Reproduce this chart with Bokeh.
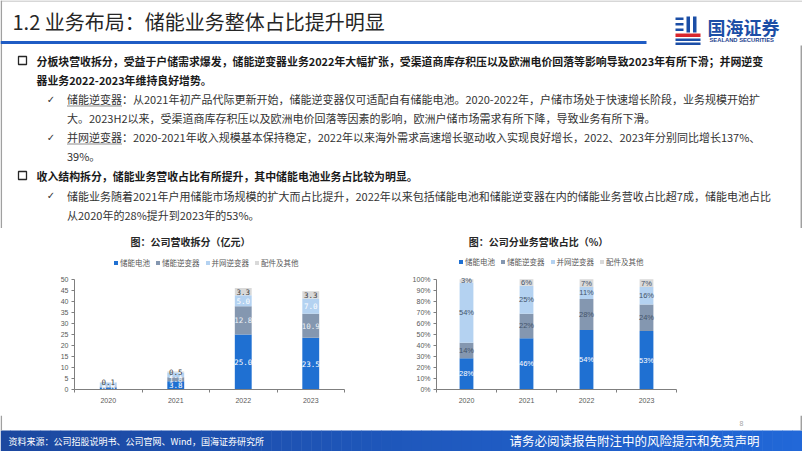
from bokeh.plotting import figure
from bokeh.layouts import column, row
from bokeh.models import Range1d, FixedTicker, ColumnDataSource, PrintfTickFormatter
from bokeh.core.properties import value
from bokeh.embed import file_html
from bokeh.resources import INLINE

# ---------------- data ----------------
years = ["2020", "2021", "2022", "2023"]
series_names = ["储能电池", "储能逆变器", "并网逆变器", "配件及其他"]
rev_battery = [0.9, 3.8, 25.0, 23.5]
rev_inverter = [0.5, 1.8, 12.8, 10.9]
rev_grid = [1.8, 2.1, 5.0, 7.0]
rev_other = [0.1, 0.5, 3.3, 3.3]
share_battery = [28, 46, 54, 53]
share_inverter = [14, 22, 28, 24]
share_grid = [54, 25, 11, 16]
share_other = [3, 6, 7, 7]
rev_ticks = [0, 5, 10, 15, 20, 25, 30, 35, 40, 45, 50]
share_ticks = [0, 10, 20, 30, 40, 50, 60, 70, 80, 90, 100]

CJK = "Noto Sans CJK SC"
COLORS = ["#1f70d2", "#8497b0", "#b4d2f1", "#d9d9d9"]
W = 802


def blank(w, h, y_top, y_bot):
    p = figure(width=w, height=h, x_range=Range1d(0, w), y_range=Range1d(y_bot, y_top),
               output_backend="svg", toolbar_location=None, min_border=0)
    p.axis.visible = False
    p.grid.visible = False
    p.outline_line_color = None
    p.background_fill_color = "white"
    return p


def txt(p, x, y, s, size, color, bold=False, align="left", font=CJK, baseline="middle"):
    p.text(x=[x], y=[y], text=[s], text_font=value(font), text_font_size=size,
           text_color=color, text_font_style="bold" if bold else "normal",
           text_align=align, text_baseline=baseline)


# ---------------- header ----------------
H1 = 228
hd = blank(W, H1, 0, H1)
hd.segment(x0=[0], y0=[0.5], x1=[W], y1=[0.5], line_color="#b0b0b0", line_width=1)
hd.segment(x0=[0.8], y0=[0], x1=[0.8], y1=[H1], line_color="#a0a0a0", line_width=1.5)
hd.segment(x0=[800.8], y0=[45], x1=[800.8], y1=[H1], line_color="#a0a0a0", line_width=1.5)
txt(hd, 12, 21, "1.2 业务布局：储能业务整体占比提升明显", "20px", "#262626")
hd.segment(x0=[0], y0=[42], x1=[646], y1=[42], line_color="#1f5cc4", line_width=3)

# logo
hd.quad(left=[675, 675, 675], right=[683, 683, 683], top=[17, 22.5, 28], bottom=[19.5, 25, 30.5],
        fill_color="#1b4ea6", line_color=None)
hd.quad(left=[686, 692.5], right=[689.5, 696], top=[16, 16], bottom=[32, 32],
        fill_color="#1b4ea6", line_color=None)
hd.quad(left=[675], right=[700], top=[33], bottom=[36.5], fill_color="#d9262c", line_color=None)
hd.quad(left=[675, 675], right=[700, 700], top=[38, 42], bottom=[40.5, 44.5],
        fill_color="#1b4ea6", line_color=None)
txt(hd, 707, 26, "国海证券", "18px", "#1b4ea6", bold=True)
txt(hd, 709, 39.5, "SEALAND SECURITIES", "5.8px", "#1b3f8f", bold=True, font="Liberation Sans")

lines = [
    (36, 60, "分板块营收拆分，受益于户储需求爆发，储能逆变器业务2022年大幅扩张，受渠道商库存积压以及欧洲电价回落等影响导致2023年有所下滑；并网逆变", True),
    (36, 79, "器业务2022-2023年维持良好增势。", True),
    (66.5, 98.5, "储能逆变器：从2021年初产品代际更新开始，储能逆变器仅可适配自有储能电池。2020-2022年，户储市场处于快速增长阶段，业务规模开始扩", False),
    (66.5, 117.5, "大。2023H2以来，受渠道商库存积压以及欧洲电价回落等因素的影响，欧洲户储市场需求有所下降，导致业务有所下滑。", False),
    (66.5, 136.5, "并网逆变器：2020-2021年收入规模基本保持稳定，2022年以来海外需求高速增长驱动收入实现良好增长，2022、2023年分别同比增长137%、", False),
    (66.5, 155.5, "39%。", False),
    (36, 175, "收入结构拆分，储能业务营收占比有所提升，其中储能电池业务占比较为明显。", True),
    (66.5, 195, "储能业务随着2021年户用储能市场规模的扩大而占比提升，2022年以来包括储能电池和储能逆变器在内的储能业务营收占比超7成，储能电池占比", False),
    (66.5, 214, "从2020年的28%提升到2023年的53%。", False),
]
for x, y, s, b in lines:
    txt(hd, x, y, s, "10.9px" if b else "11px", "#1a1a1a" if b else "#333333", bold=b)
hd.scatter(x=[22, 22], y=[60, 175], marker="square", size=8, fill_color=None,
           line_color="#262626", line_width=1.3)
for y in [98.5, 136.5, 195]:
    txt(hd, 50.5, y, "✓", "10px", "#333333", align="center", font="DejaVu Sans")
hd.segment(x0=[66.5, 66.5], y0=[105.5, 143.5], x1=[121.5, 121.5], y1=[105.5, 143.5],
           line_color="#8c8c8c", line_width=1)


# ---------------- charts ----------------
RH = 187


def base_chart(w, left, right, bottom, ytop):
    p = figure(width=w, height=RH, x_range=Range1d(0.5, 4.5), y_range=Range1d(0, ytop),
               output_backend="svg", toolbar_location=None,
               min_border_left=left, min_border_right=right, min_border_top=0,
               min_border_bottom=bottom)
    p.grid.visible = False
    p.outline_line_color = None
    p.xaxis.ticker = FixedTicker(ticks=[i + 1 for i in range(len(years))],
                                 minor_ticks=[i + 0.5 for i in range(len(years) + 1)])
    p.xaxis.major_label_overrides = {i + 1: y for i, y in enumerate(years)}
    p.xaxis.major_tick_out = 0
    p.xaxis.major_tick_in = 0
    p.xaxis.minor_tick_out = 3
    p.xaxis.minor_tick_in = 0
    p.xaxis.major_label_standoff = 5
    for ax in (p.xaxis, p.yaxis):
        ax.axis_line_color = "#7f7f7f"
        ax.major_tick_line_color = "#7f7f7f"
        ax.minor_tick_line_color = "#7f7f7f"
        ax.major_label_text_font = "Liberation Sans"
        ax.major_label_text_color = "#595959"
        ax.major_label_text_font_size = "7px"
    p.yaxis.major_tick_in = 0
    p.yaxis.major_tick_out = 3
    p.yaxis.minor_tick_out = 0
    p.yaxis.major_label_standoff = 3
    return p


def stack_chart(p, vals, heights, width, label_fmt, label_colors, label_font, label_size):
    xs = [i + 1 for i in range(len(years))]
    keys = ["s0", "s1", "s2", "s3"]
    data = {"x": xs}
    for k, h in zip(keys, heights):
        data[k] = h
    src = ColumnDataSource(data)
    p.vbar_stack(keys, x="x", width=width, color=COLORS, line_color=None, source=src,
                 legend_label=series_names)
    bottoms = [0.0] * len(xs)
    for si, (v, h) in enumerate(zip(vals, heights)):
        ys = [b + hh / 2 for b, hh in zip(bottoms, h)]
        p.text(x=xs, y=ys, text=[label_fmt(a) for a in v], text_font=value(label_font),
               text_font_size=label_size, text_color=label_colors[si],
               text_align="center", text_baseline="middle")
        bottoms = [b + hh for b, hh in zip(bottoms, h)]
    lg = p.legend[0]
    lg.orientation = "horizontal"
    lg.glyph_width = 5
    lg.glyph_height = 5
    lg.label_standoff = 2
    lg.spacing = 5
    lg.padding = 0
    lg.margin = 0
    lg.label_height = 7
    lg.label_text_font = CJK
    lg.label_text_font_size = "7.5px"
    lg.label_text_color = "#595959"
    lg.background_fill_alpha = 0
    lg.border_line_alpha = 0
    return lg


# left chart: frame x 74..344, y 228..389 (page), 2.2 px per unit
pL = base_chart(400, 74, 56, 26, 161 / 2.2)
lgL = stack_chart(pL, [rev_battery, rev_inverter, rev_grid, rev_other],
                  [rev_battery, rev_inverter, rev_grid, rev_other], 0.25,
                  lambda a: f"{a:.1f}", ["white", "#eef2f7", "white", "#404040"],
                  "DejaVu Sans Mono", "7.5px")
lgL.location = (39, 121)
pL.yaxis.ticker = FixedTicker(ticks=rev_ticks)
pL.yaxis.bounds = (rev_ticks[0], rev_ticks[-1])
pL.text(x=[0.5 + (190 - 74) / 67.5], y=[(389 - 241) / 2.2], text=["图：公司营收拆分（亿元）"],
        text_font=value(CJK), text_font_size="10px", text_font_style="bold",
        text_color="#262626", text_align="center", text_baseline="middle")

# right chart: frame x 436..676, y 228..390, 1.11 px per unit
tot = [a + b + c + d for a, b, c, d in zip(share_battery, share_inverter, share_grid, share_other)]
norm = [[v / t * 100 for v, t in zip(s, tot)] for s in (share_battery, share_inverter, share_grid, share_other)]
pR = base_chart(402, 36, 126, 25, 162 / 1.11)
lgR = stack_chart(pR, [share_battery, share_inverter, share_grid, share_other], norm, 0.23,
                  lambda a: f"{a}%", ["white", "#44546a", "#44546a", "#44546a"],
                  "Liberation Sans", "7.5px")
lgR.location = (22, 122)
pR.yaxis.ticker = FixedTicker(ticks=share_ticks)
pR.yaxis.bounds = (share_ticks[0], share_ticks[-1])
pR.yaxis.formatter = PrintfTickFormatter(format="%d%%")
pR.text(x=[0.5 + (538 - 436) / 60], y=[(390 - 241) / 1.11], text=["图：公司分业务营收占比（%）"],
        text_font=value(CJK), text_font_size="10px", text_font_style="bold",
        text_color="#262626", text_align="center", text_baseline="middle")

# ---------------- footer ----------------
FT = 415
ft = blank(W, 451 - FT, FT, 451)
n = 80
c0 = (0x1c, 0x48, 0xa0)
c1 = (0x22, 0x68, 0xd8)
lefts = [W * i / n for i in range(n)]
rights = [W * (i + 1) / n + 0.5 for i in range(n)]
cols = ["#%02x%02x%02x" % tuple(int(c0[k] + (c1[k] - c0[k]) * i / (n - 1)) for k in range(3)) for i in range(n)]
ft.quad(left=lefts, right=rights, top=[430] * n, bottom=[451] * n, fill_color=cols, line_color=None)
ft.segment(x0=[0.8, 800.8], y0=[FT, FT], x1=[0.8, 800.8], y1=[430, 430], line_color="#a0a0a0", line_width=1.5)
txt(ft, 741, 423, "8", "7px", "#a6a6a6", align="center", font="Liberation Sans")
txt(ft, 8, 440.5, "资料来源：公司招股说明书、公司官网、Wind，国海证券研究所", "9px", "white")
txt(ft, 509, 440, "请务必阅读报告附注中的风险提示和免责声明", "12.5px", "white")

layout = column(hd, row(pL, pR, spacing=0), ft, spacing=0)
open("out.html", "w").write(file_html(layout, INLINE))
